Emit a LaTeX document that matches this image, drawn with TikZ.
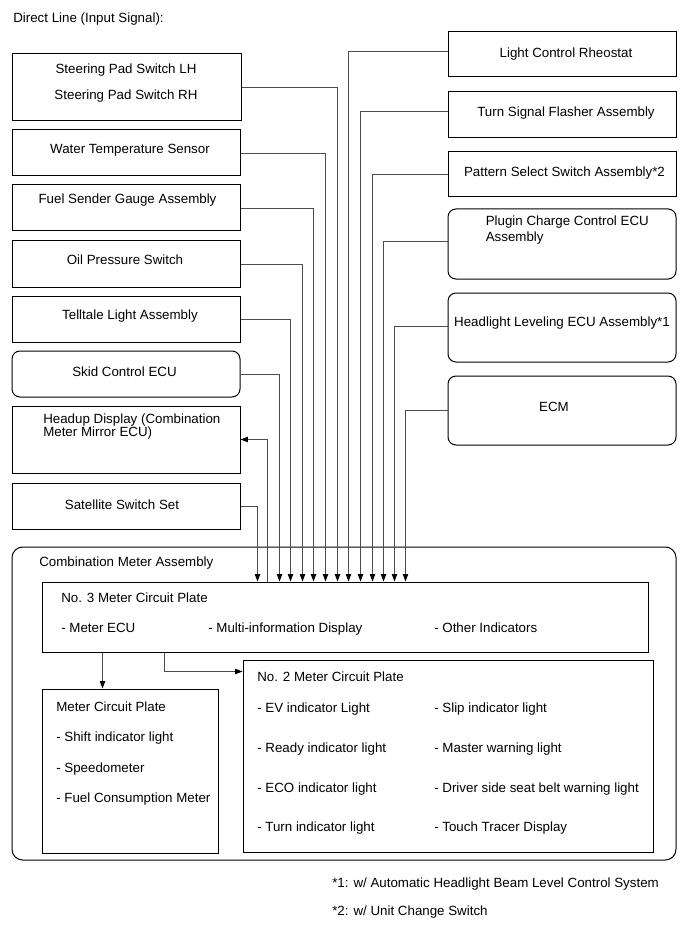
\documentclass[tikz,border=0pt]{standalone}
\usepackage{fontspec}
\setmainfont{Liberation Sans}
\usetikzlibrary{arrows.meta,calc,fit}
\begin{document}
\begin{tikzpicture}[x=0.75pt,y=-0.75pt,
  box/.style={draw=black, line width=0.75pt, inner sep=0pt},
  rbox/.style={box, rounded corners=6pt},
  txt/.style={inner sep=0pt, font=\fontsize{10}{12}\selectfont},
  conn/.style={draw=black!70, line width=0.6pt},
  tip/.style={-{Triangle[length=5.5pt,width=4pt,color=black]}}]
\useasboundingbox[fill=white] (0,0) rectangle (690,952);

\node[txt, anchor=base west] (title) at (13,23) {Direct Line (Input Signal):};

% left column
\node[box, fit={(12,54) (241,121)}] (sp) {};
\node[txt, anchor=base] (spt1) at (126,74) {Steering Pad Switch LH};
\node[txt, anchor=base] (spt2) at (126,99.5) {Steering Pad Switch RH};
\node[box, fit={(12,130) (240,176)}] (wt) {};
\node[txt, anchor=base] (wtt) at (130,154) {Water Temperature Sensor};
\node[box, fit={(12,185) (240,231)}] (fs) {};
\node[txt, anchor=base] (fst) at (127.5,204) {Fuel Sender Gauge Assembly};
\node[box, fit={(12,241) (240,287)}] (op) {};
\node[txt, anchor=base] (opt) at (125,264) {Oil Pressure Switch};
\node[box, fit={(12,296) (240,342)}] (tl) {};
\node[txt, anchor=base] (tlt) at (130,319) {Telltale Light Assembly};
\node[rbox, fit={(12,351) (240,397)}] (sk) {};
\node[txt, anchor=base] (skt) at (124.5,376) {Skid Control ECU};
\node[box, fit={(12,406) (240,473)}] (hud) {};
\node[txt, anchor=base west] (hudt1) at (43,423.3) {Headup Display (Combination};
\node[txt, anchor=base west] (hudt2) at (43,436) {Meter Mirror ECU)};
\node[box, fit={(12,483) (240,529)}] (ss) {};
\node[txt, anchor=base] (sst) at (122,509) {Satellite Switch Set};

% right column
\node[box, fit={(448,32) (676,77)}] (rh) {};
\node[txt, anchor=base] (rht) at (566,57.5) {Light Control Rheostat};
\node[box, fit={(448,92) (676,138)}] (ts) {};
\node[txt, anchor=base] (tst) at (566,116.5) {Turn Signal Flasher Assembly};
\node[box, fit={(448,152) (676,197)}] (ps) {};
\node[txt, anchor=base] (pst) at (564.5,176.5) {Pattern Select Switch Assembly*2};
\node[rbox, fit={(448,209) (676,279)}] (pc) {};
\node[txt, anchor=base west] (pct1) at (485.5,226) {Plugin Charge Control ECU};
\node[txt, anchor=base west] (pct2) at (485.5,241.7) {Assembly};
\node[rbox, fit={(448,293) (676,362)}] (hl) {};
\node[txt, anchor=base] (hlt) at (562,326) {Headlight Leveling ECU Assembly*1};
\node[rbox, fit={(448,376) (676,445)}] (ecm) {};
\node[txt, anchor=base] (ecmt) at (554,411.5) {ECM};

% combination meter
\node[box, rounded corners=8pt, fit={(12,547) (676,860)}] (cm) {};
\node[txt, anchor=base west] (cmt) at (39,566) {Combination Meter Assembly};
\node[box, fit={(42,582) (648,652)}] (n3) {};
\node[txt, anchor=base west] (n3t) at (61,602.5) {No. 3 Meter Circuit Plate};
\node[txt, anchor=base west] (n3a) at (61,632.5) {- Meter ECU};
\node[txt, anchor=base west] (n3b) at (208,632.5) {- Multi-information Display};
\node[txt, anchor=base west] (n3c) at (434,632.5) {- Other Indicators};

\node[box, fit={(42,689) (218,853)}] (mcp) {};
\node[txt, anchor=base west] (mcpt) at (56,711) {Meter Circuit Plate};
\node[txt, anchor=base west] (mcpa) at (56,741.5) {- Shift indicator light};
\node[txt, anchor=base west] (mcpb) at (56,772) {- Speedometer};
\node[txt, anchor=base west] (mcpc) at (56,802.5) {- Fuel Consumption Meter};

\node[box, fit={(243,660) (653,852)}] (n2) {};
\node[txt, anchor=base west] (n2t) at (257,681.5) {No. 2 Meter Circuit Plate};
\node[txt, anchor=base west] (n2a) at (257,712) {- EV indicator Light};
\node[txt, anchor=base west] (n2b) at (257,752) {- Ready indicator light};
\node[txt, anchor=base west] (n2c) at (257,792) {- ECO indicator light};
\node[txt, anchor=base west] (n2d) at (257,831) {- Turn indicator light};
\node[txt, anchor=base west] (n2e) at (434,712) {- Slip indicator light};
\node[txt, anchor=base west] (n2f) at (434,752) {- Master warning light};
\node[txt, anchor=base west] (n2g) at (434,792) {- Driver side seat belt warning light};
\node[txt, anchor=base west] (n2h) at (434,831) {- Touch Tracer Display};

% footnotes
\node[txt, anchor=base west] (fn1) at (332,887.5) {*1: w/ Automatic Headlight Beam Level Control System};
\node[txt, anchor=base west] (fn2) at (332,915.5) {*2: w/ Unit Change Switch};

% connectors
\draw[conn,tip] (ss.east) -| ($(n3.north west)+(216,0)$);
\draw[conn,tip] ($(n3.north west)+(226,0)$) |- (hud.east);
\draw[conn,tip] (sk.east) -| ($(n3.north west)+(238,0)$);
\draw[conn,tip] (tl.east) -| ($(n3.north west)+(249,0)$);
\draw[conn,tip] (op.east) -| ($(n3.north west)+(261,0)$);
\draw[conn,tip] (fs.east) -| ($(n3.north west)+(272,0)$);
\draw[conn,tip] (wt.east) -| ($(n3.north west)+(284,0)$);
\draw[conn,tip] (sp.east) -| ($(n3.north west)+(296,0)$);
\draw[conn,tip] ($(rh.west)+(0,-3)$) -| ($(n3.north west)+(307,0)$);
\draw[conn,tip] ($(ts.west)+(0,-4)$) -| ($(n3.north west)+(319,0)$);
\draw[conn,tip] (ps.west) -| ($(n3.north west)+(331,0)$);
\draw[conn,tip] ($(pc.west)+(0,-3)$) -| ($(n3.north west)+(342,0)$);
\draw[conn,tip] ($(hl.west)+(0,-1.5)$) -| ($(n3.north west)+(353,0)$);
\draw[conn,tip] (ecm.west) -| ($(n3.north west)+(364,0)$);

\draw[conn,tip] ($(n3.south west)+(61,0)$) -- ($(mcp.north west)+(61,0)$);
\draw[conn,tip] ($(n3.south west)+(123,0)$) |- ($(n2.north west)+(0,12)$);
\end{tikzpicture}
\end{document}
